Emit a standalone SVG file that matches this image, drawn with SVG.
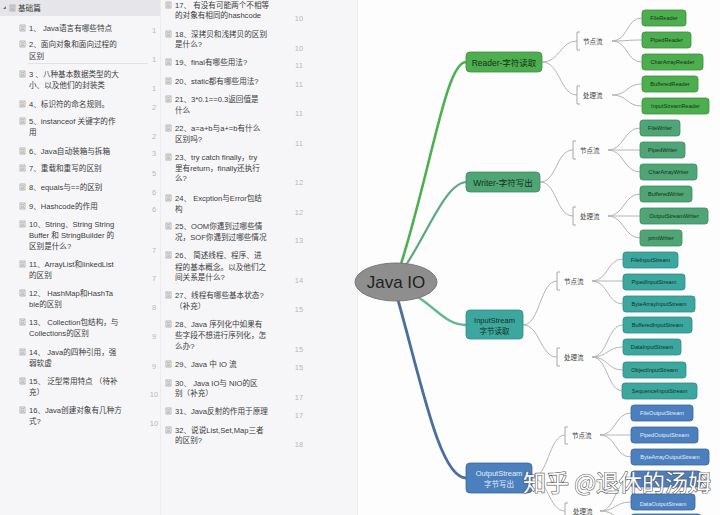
<svg xmlns="http://www.w3.org/2000/svg" width="720" height="515" viewBox="0 0 720 515">
<style>
.li{font-family:"Liberation Sans","Noto Sans CJK SC",sans-serif;font-size:7.6px;fill:#3a3a3a}
.pg{font-family:"Liberation Sans",sans-serif;font-size:7.5px;fill:#b8b8b8;text-anchor:middle}
.ic{fill:none;stroke:#9a9a9a;stroke-width:0.7}
.sub{fill:none;stroke:#b4b4b4;stroke-width:1}
.br{fill:none;stroke:#a8a8a8;stroke-width:1}
.lab{font-family:"Noto Sans CJK SC",sans-serif;font-size:6.5px;fill:#444}
.nt{font-family:"Liberation Sans","Noto Sans CJK SC",sans-serif;text-anchor:middle}
.lt{font-family:"Liberation Sans",sans-serif;font-size:5.6px;text-anchor:middle}
.rd{fill:#4cae4f;stroke:#3b8f3e;stroke-width:0.8}
.wr{fill:#4fa575;stroke:#3e8a5f;stroke-width:0.8}
.is{fill:#3ba79f;stroke:#2d8b84;stroke-width:0.8}
.os{fill:#4b7fbe;stroke:#3a679f;stroke-width:0.8}
.dk{fill:#17301a}
.wt{fill:#e8eef8}
</style>
<defs>
<g id="doc"><rect x="0" y="-6" width="5" height="6" class="ic"/><path d="M1 -4.3h3M1 -2.8h3M1 -1.3h3" class="ic"/></g>
</defs>
<rect width="720" height="515" fill="#f6f6f8"/>
<rect x="358" y="0" width="362" height="515" fill="#fdfdfd"/>
<line x1="160.5" y1="0" x2="160.5" y2="515" stroke="#ececef"/>
<line x1="357.5" y1="0" x2="357.5" y2="515" stroke="#ebebee"/>
<rect x="0" y="0" width="160" height="16" fill="#e6e6ea"/>
<g id="list-left">
<path d="M3 9 l3 -3 v3 z" fill="#777"/>
<use href="#doc" x="10" y="11"/>
<text x="18" y="11" class="li">基础篇</text>
<use href="#doc" x="20" y="31"/><text x="29" y="31" class="li">1、 Java语言有哪些特点</text>
<use href="#doc" x="20" y="47"/><text x="29" y="47" class="li">2、面向对象和面向过程的</text><text x="29" y="59" class="li">区别</text>
<line x1="28" y1="63.5" x2="148" y2="63.5" stroke="#e2e2e6"/>
<use href="#doc" x="20" y="77"/><text x="29" y="77" class="li">3 、八种基本数据类型的大</text><text x="29" y="88" class="li">小、以及他们的封装类</text>
<use href="#doc" x="20" y="107"/><text x="29" y="107" class="li">4、标识符的命名规则。</text>
<use href="#doc" x="20" y="124"/><text x="29" y="124" class="li">5、instanceof 关键字的作</text><text x="29" y="135" class="li">用</text>
<use href="#doc" x="20" y="154"/><text x="29" y="154" class="li">6、Java自动装箱与拆箱</text>
<use href="#doc" x="20" y="171"/><text x="29" y="171" class="li">7、重载和重写的区别</text>
<use href="#doc" x="20" y="190"/><text x="29" y="190" class="li">8、equals与==的区别</text>
<use href="#doc" x="20" y="209"/><text x="29" y="209" class="li">9、Hashcode的作用</text>
<use href="#doc" x="20" y="227"/><text x="29" y="227" class="li">10、String、String String</text><text x="29" y="238" class="li">Buffer 和 StringBuilder 的</text><text x="29" y="249" class="li">区别是什么?</text>
<use href="#doc" x="20" y="267"/><text x="29" y="267" class="li">11、ArrayList和linkedList</text><text x="29" y="278" class="li">的区别</text>
<use href="#doc" x="20" y="296"/><text x="29" y="296" class="li">12、 HashMap和HashTa</text><text x="29" y="307" class="li">ble的区别</text>
<use href="#doc" x="20" y="325"/><text x="29" y="325" class="li">13、 Collection包结构，与</text><text x="29" y="336" class="li">Collections的区别</text>
<use href="#doc" x="20" y="355"/><text x="29" y="355" class="li">14、 Java的四种引用，强</text><text x="29" y="366" class="li">弱软虚</text>
<use href="#doc" x="20" y="384"/><text x="29" y="384" class="li">15、 泛型常用特点 （待补</text><text x="29" y="395" class="li">充）</text>
<use href="#doc" x="20" y="413"/><text x="29" y="413" class="li">16、Java创建对象有几种方</text><text x="29" y="424" class="li">式?</text>
</g>
<g id="pages-left">
<text x="154" y="33" class="pg">1</text><text x="154" y="62" class="pg">1</text><text x="154" y="91" class="pg">1</text><text x="154" y="110" class="pg">2</text><text x="154" y="139" class="pg">2</text><text x="154" y="156" class="pg">3</text><text x="154" y="176" class="pg">5</text><text x="154" y="195" class="pg">6</text><text x="154" y="212" class="pg">6</text><text x="154" y="253" class="pg">7</text><text x="154" y="281" class="pg">7</text><text x="154" y="310" class="pg">8</text><text x="154" y="339" class="pg">9</text><text x="154" y="369" class="pg">9</text><text x="154" y="397" class="pg">10</text><text x="154" y="426" class="pg">10</text>
</g>
<g id="list-mid">
<use href="#doc" x="166" y="8"/><text x="175" y="8" class="li">17、 有没有可能两个不相等</text><text x="175" y="18" class="li">的对象有相同的hashcode</text>
<use href="#doc" x="166" y="37"/><text x="175" y="37" class="li">18、深拷贝和浅拷贝的区别</text><text x="175" y="47" class="li">是什么?</text>
<use href="#doc" x="166" y="65"/><text x="175" y="65" class="li">19、final有哪些用法?</text>
<use href="#doc" x="166" y="84"/><text x="175" y="84" class="li">20、static都有哪些用法?</text>
<use href="#doc" x="166" y="102"/><text x="175" y="102" class="li">21、3*0.1==0.3返回值是</text><text x="175" y="113" class="li">什么</text>
<use href="#doc" x="166" y="131"/><text x="175" y="131" class="li">22、a=a+b与a+=b有什么</text><text x="175" y="142" class="li">区别吗?</text>
<use href="#doc" x="166" y="160"/><text x="175" y="160" class="li">23、try catch finally，try</text><text x="175" y="171" class="li">里有return，finally还执行</text><text x="175" y="181" class="li">么?</text>
<use href="#doc" x="166" y="201"/><text x="175" y="201" class="li">24、 Excption与Error包结</text><text x="175" y="212" class="li">构</text>
<use href="#doc" x="166" y="229"/><text x="175" y="229" class="li">25、OOM你遇到过哪些情</text><text x="175" y="240" class="li">况，SOF你遇到过哪些情况</text>
<use href="#doc" x="166" y="258"/><text x="175" y="258" class="li">26、 简述线程、程序、进</text><text x="175" y="270" class="li">程的基本概念。以及他们之</text><text x="175" y="280" class="li">间关系是什么?</text>
<use href="#doc" x="166" y="298"/><text x="175" y="298" class="li">27、线程有哪些基本状态?</text><text x="175" y="309" class="li">（补充）</text>
<use href="#doc" x="166" y="327"/><text x="175" y="327" class="li">28、Java 序列化中如果有</text><text x="175" y="338" class="li">些字段不想进行序列化，怎</text><text x="175" y="349" class="li">么办?</text>
<use href="#doc" x="166" y="367"/><text x="175" y="367" class="li">29、Java 中 IO 流</text>
<use href="#doc" x="166" y="386"/><text x="175" y="386" class="li">30、 Java IO与 NIO的区</text><text x="175" y="396" class="li">别（补充）</text>
<use href="#doc" x="166" y="414"/><text x="175" y="414" class="li">31、Java反射的作用于原理</text>
<use href="#doc" x="166" y="433"/><text x="175" y="433" class="li">32、说说List,Set,Map三者</text><text x="175" y="443" class="li">的区别?</text>
</g>
<g id="pages-mid">
<text x="299" y="21" class="pg">10</text><text x="299" y="51" class="pg">10</text><text x="299" y="68" class="pg">11</text><text x="299" y="87" class="pg">11</text><text x="299" y="116" class="pg">11</text><text x="299" y="146" class="pg">11</text><text x="299" y="185" class="pg">12</text><text x="299" y="215" class="pg">12</text><text x="299" y="243" class="pg">13</text><text x="299" y="283" class="pg">14</text><text x="299" y="312" class="pg">15</text><text x="299" y="352" class="pg">15</text><text x="299" y="370" class="pg">15</text><text x="299" y="400" class="pg">17</text><text x="299" y="418" class="pg">17</text><text x="299" y="447" class="pg">18</text>
</g>
<g id="connectors">
<path d="M401 264 C432 165 446 62 466 62" fill="none" stroke="#4caf50" stroke-width="2.6"/>
<path d="M406 265 C428 232 446 182 467 182" fill="none" stroke="#5aa87c" stroke-width="2.2"/>
<path d="M418 297 C440 312 448 325 466 325" fill="none" stroke="#62b98c" stroke-width="2.4"/>
<path d="M398 300 C422 385 440 478 466 478" fill="none" stroke="#4a6f9f" stroke-width="2.8"/>
<path d="M542 62 C560 62 560 41 577 41 M542 62 C560 62 560 95 577 95" class="sub"/>
<path d="M612 41 C628 41 626 18 642 18 M612 41 C628 41 626 40 642 40 M612 41 C628 41 626 62 642 62 M612 95 C628 95 626 84 642 84 M612 95 C628 95 626 106 642 106" class="sub"/>
<path d="M540 182 C557 182 556 150 573 150 M540 182 C557 182 556 216 573 216" class="sub"/>
<path d="M608 150 C624 150 624 128 640 128 M608 150 C624 150 624 150 640 150 M608 150 C624 150 624 172 640 172 M608 216 C624 216 624 194 640 194 M608 216 C624 216 624 216 640 216 M608 216 C624 216 624 238 640 238" class="sub"/>
<path d="M523 325 C540 325 540 281 557 281 M523 325 C540 325 540 357 557 357" class="sub"/>
<path d="M592 281 C608 281 607 259 623 259 M592 281 C608 281 607 281 623 281 M592 281 C608 281 607 304 623 304 M592 357 C608 357 607 325 623 325 M592 357 C608 357 607 347 623 347 M592 357 C608 357 607 370 623 370 M592 357 C608 357 607 391 623 391" class="sub"/>
<path d="M532 478 C548 478 549 435 565 435 M532 478 C548 478 549 511 565 511" class="sub"/>
<path d="M600 435 C616 435 615 413 631 413 M600 435 C616 435 615 435 631 435 M600 435 C616 435 615 457 631 457 M600 511 C616 511 615 479 631 479 M600 511 C616 511 615 502 631 502 M600 511 C616 511 615 521 631 521" class="sub"/>
<path d="M580 32 h-3 v18 h3 M580 86 h-3 v18 h3" class="br"/>
<path d="M576 141 h-3 v18 h3 M576 207 h-3 v18 h3" class="br"/>
<path d="M560 272 h-3 v18 h3 M560 348 h-3 v18 h3" class="br"/>
<path d="M568 427 h-3 v17 h3 M568 503 h-3 v17 h3" class="br"/>
</g>
<g id="root">
<ellipse cx="396" cy="282" rx="41" ry="19" fill="#8e8e8e" stroke="#777" stroke-width="1"/>
<text x="396" y="288" class="nt" font-size="17" fill="#1e1e1e">Java IO</text>
</g>
<g id="reader">
<rect x="466" y="52" width="76" height="20" rx="4" class="rd"/>
<text x="504" y="65.5" class="nt dk" font-size="8.5">Reader-字符读取</text>
</g>
<g id="reader-labels">
<text x="583" y="43.5" class="lab">节点流</text><text x="583" y="97.5" class="lab">处理流</text>
</g>
<g id="reader-leaves">
<rect x="642" y="10" width="44" height="16" rx="3" class="rd"/><text x="664" y="20" class="lt dk">FileReader</text>
<rect x="642" y="32" width="49" height="16" rx="3" class="rd"/><text x="666.5" y="42" class="lt dk">PipedReader</text>
<rect x="642" y="54" width="61" height="16" rx="3" class="rd"/><text x="672.5" y="64" class="lt dk">CharArrayReader</text>
<rect x="642" y="76" width="56" height="16" rx="3" class="rd"/><text x="670" y="86" class="lt dk">BufferedReader</text>
<rect x="642" y="98" width="67" height="16" rx="3" class="rd"/><text x="675.5" y="108" class="lt dk">InputStreamReader</text>
</g>
<g id="writer">
<rect x="466" y="172" width="74" height="20" rx="4" class="wr"/>
<text x="503" y="185.5" class="nt dk" font-size="8.5">Writer-字符写出</text>
</g>
<g id="writer-labels">
<text x="580" y="152.5" class="lab">节点流</text><text x="580" y="218.5" class="lab">处理流</text>
</g>
<g id="writer-leaves">
<rect x="640" y="120" width="40" height="16" rx="3" class="wr"/><text x="660" y="130" class="lt dk">FileWriter</text>
<rect x="640" y="142" width="45" height="16" rx="3" class="wr"/><text x="662.5" y="152" class="lt dk">PipedWriter</text>
<rect x="640" y="164" width="57" height="16" rx="3" class="wr"/><text x="668.5" y="174" class="lt dk">CharArrayWriter</text>
<rect x="640" y="186" width="52" height="16" rx="3" class="wr"/><text x="666" y="196" class="lt dk">BufferedWriter</text>
<rect x="640" y="208" width="68" height="16" rx="3" class="wr"/><text x="674" y="218" class="lt dk">OutputStreamWriter</text>
<rect x="640" y="230" width="42" height="16" rx="3" class="wr"/><text x="661" y="240" class="lt dk">printWriter</text>
</g>
<g id="inputstream">
<rect x="466" y="310" width="57" height="29" rx="4" class="is"/>
<text x="494.5" y="322.5" class="nt dk" font-size="7.5">InputStream</text>
<text x="494.5" y="333.5" class="nt dk" font-size="7.5">字节读取</text>
</g>
<g id="inputstream-labels">
<text x="564" y="283.5" class="lab">节点流</text><text x="564" y="359.5" class="lab">处理流</text>
</g>
<g id="inputstream-leaves">
<rect x="623" y="252" width="55" height="16" rx="3" class="is"/><text x="650.5" y="262" class="lt dk">FileInputStream</text>
<rect x="623" y="274" width="62" height="16" rx="3" class="is"/><text x="654" y="284" class="lt dk">PipedInputStream</text>
<rect x="623" y="296" width="72" height="16" rx="3" class="is"/><text x="659" y="306" class="lt dk">ByteArrayInputStream</text>
<rect x="623" y="317" width="69" height="16" rx="3" class="is"/><text x="657.5" y="327" class="lt dk">BufferedInputStream</text>
<rect x="623" y="339" width="58" height="16" rx="3" class="is"/><text x="652" y="349" class="lt dk">DataInputStream</text>
<rect x="623" y="362" width="63" height="16" rx="3" class="is"/><text x="654.5" y="372" class="lt dk">ObjectInputStream</text>
<rect x="622" y="383" width="75" height="16" rx="3" class="is"/><text x="659.5" y="393" class="lt dk">SequenceInputStream</text>
</g>
<g id="outputstream">
<rect x="466" y="463" width="66" height="30" rx="4" class="os"/>
<text x="499" y="475.5" class="nt wt" font-size="7.5">OutputStream</text>
<text x="499" y="486.5" class="nt wt" font-size="7.5">字节写出</text>
</g>
<g id="outputstream-labels">
<text x="572" y="437.5" class="lab">节点流</text><text x="573" y="513.5" class="lab">处理流</text>
</g>
<g id="outputstream-leaves">
<rect x="631" y="405" width="62" height="16" rx="3" class="os"/><text x="662" y="415" class="lt wt">FileOutputStream</text>
<rect x="631" y="427" width="67" height="16" rx="3" class="os"/><text x="664.5" y="437" class="lt wt">PipedOutputStream</text>
<rect x="631" y="449" width="78" height="16" rx="3" class="os"/><text x="670" y="459" class="lt wt">ByteArrayOutputStream</text>
<rect x="631" y="471" width="70" height="16" rx="3" class="os"/>
<rect x="631" y="494" width="64" height="16" rx="3" class="os"/><text x="663" y="505.5" class="lt wt">DataOutputStream</text>
<rect x="631" y="514" width="70" height="16" rx="3" class="os"/>
</g>
<g id="watermark">
<text x="523" y="491" font-family="Noto Sans CJK SC,sans-serif" font-size="23" fill="#ffffff" stroke="#555" stroke-width="1.2" paint-order="stroke" opacity="0.95">知乎 @退休的汤姆</text>
</g>
</svg>
